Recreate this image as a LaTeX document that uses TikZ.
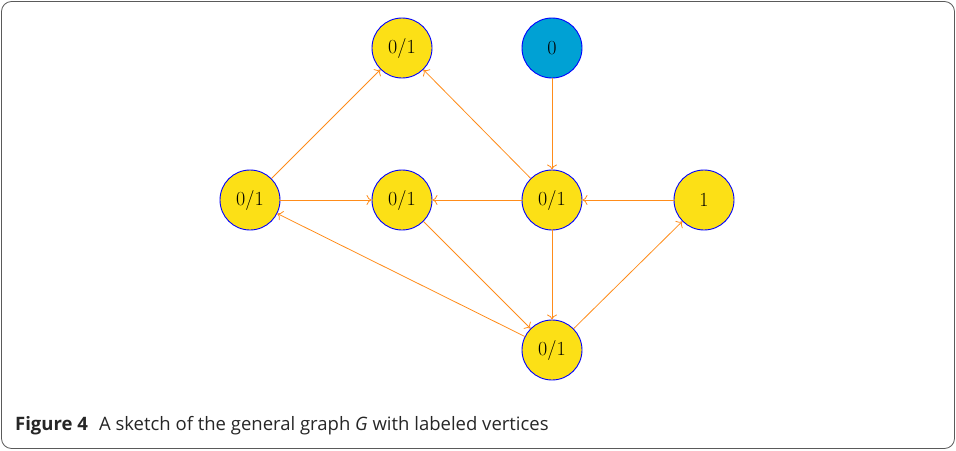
\documentclass[tikz,border=0pt]{standalone}
\usepackage{fontspec}
\usetikzlibrary{arrows.meta}
\newfontfamily\capfont{Open Sans}
\definecolor{nodeyellow}{RGB}{252,224,22}
\definecolor{nodeblue}{RGB}{0,161,212}
\definecolor{edgeorange}{RGB}{255,140,26}
\definecolor{framegray}{RGB}{90,90,90}
\begin{document}
\begin{tikzpicture}[x=1pt,y=-1pt,
  vert/.style={circle,draw=blue,line width=0.9pt,fill=nodeyellow,minimum size=60pt,inner sep=0pt,font=\fontsize{20}{22}\selectfont},
  bluevert/.style={vert,fill=nodeblue},
  edge/.style={draw=edgeorange,line width=0.8pt,-{To[length=5pt,width=10pt]}}]
\useasboundingbox (0,0) rectangle (956,450);
\draw[framegray,line width=0.8pt,rounded corners=10pt] (1.5,1.5) rectangle (954.5,448.5);
\node[vert] (tl) at (402,48) {0/1};
\node[bluevert] (tr) at (552,48) {0};
\node[vert] (ml) at (250,200) {0/1};
\node[vert] (mc) at (402,200) {0/1};
\node[vert] (mr) at (552,200) {0/1};
\node[vert] (rr) at (704,200) {1};
\node[vert] (bt) at (552,350) {0/1};
\draw[edge] (ml) -- (tl);
\draw[edge] (mr) -- (tl);
\draw[edge] (tr) -- (mr);
\draw[edge] (ml) -- (mc);
\draw[edge] (mr) -- (mc);
\draw[edge] (rr) -- (mr);
\draw[edge] (mr) -- (bt);
\draw[edge] (mc) -- (bt);
\draw[edge] (bt) -- (ml);
\draw[edge] (bt) -- (rr);
\node[anchor=base west,inner sep=0pt,font=\capfont\fontsize{18.5}{20}\selectfont,text=black!85] (cap) at (15,430) {\textbf{Figure 4}\hspace{0.6em}A sketch of the general graph \textit{G} with labeled vertices};
\end{tikzpicture}
\end{document}
